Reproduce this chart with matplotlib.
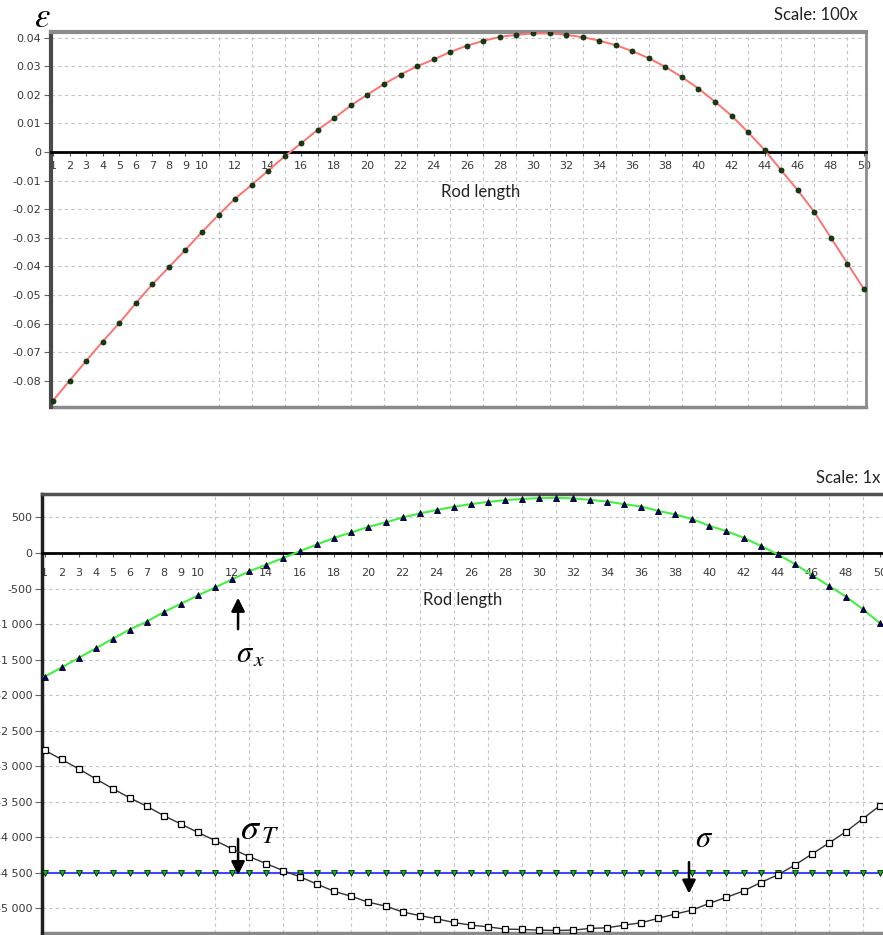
"""Strain and stress along the rod, two stacked panels."""

import matplotlib
matplotlib.use("Agg")
import matplotlib.pyplot as plt
from matplotlib.ticker import FixedLocator, FuncFormatter

plt.rcParams["mathtext.fontset"] = "stix"

# Positions along the rod and the labelled ones
positions = list(range(1, 51))
x_tick_values = list(range(1, 11)) + list(range(12, 51, 2))

# Strain (top panel)
strain = [
    -0.0870, -0.0800, -0.0731, -0.0663, -0.0599, -0.0529, -0.0463, -0.0403, -0.0342, -0.0280,
    -0.0220, -0.0163, -0.0115, -0.0065, -0.0015, 0.0031, 0.0078, 0.0119, 0.0163, 0.0201,
    0.0238, 0.0271, 0.0300, 0.0324, 0.0350, 0.0372, 0.0389, 0.0403, 0.0410, 0.0415,
    0.0415, 0.0410, 0.0402, 0.0390, 0.0374, 0.0353, 0.0328, 0.0298, 0.0262, 0.0222,
    0.0176, 0.0127, 0.0069, 0.0007, -0.0064, -0.0134, -0.0210, -0.0300, -0.0390, -0.0480,
]

# Stresses (bottom panel)
sigma_x = [
    -1740, -1610, -1476, -1342, -1206, -1076, -965, -830, -714, -597,
    -485, -370, -258, -165, -70, 28, 122, 214, 290, 368,
    430, 500, 556, 605, 650, 688, 718, 744, 760, 772,
    776, 768, 748, 724, 686, 654, 592, 542, 476, 382,
    308, 214, 102, -18, -154, -308, -462, -612, -791, -987,
]
sigma_total = [
    -2773, -2904, -3035, -3177, -3314, -3445, -3563, -3695, -3812, -3931,
    -4044, -4161, -4270, -4369, -4468, -4556, -4660, -4760, -4830, -4912,
    -4966, -5049, -5100, -5145, -5197, -5234, -5258, -5290, -5295, -5305,
    -5309, -5305, -5280, -5272, -5234, -5201, -5138, -5078, -5021, -4927,
    -4843, -4754, -4636, -4528, -4391, -4236, -4081, -3921, -3737, -3554,
]
sigma_t = [
    -4500, -4500, -4500, -4500, -4500, -4500, -4500, -4500, -4500, -4500,
    -4500, -4500, -4500, -4500, -4500, -4500, -4500, -4500, -4500, -4500,
    -4500, -4500, -4500, -4500, -4500, -4500, -4500, -4500, -4500, -4500,
    -4500, -4500, -4500, -4500, -4500, -4500, -4500, -4500, -4500, -4500,
    -4500, -4500, -4500, -4500, -4500, -4500, -4500, -4500, -4500, -4500,
]

strain_ticks = [0.04, 0.03, 0.02, 0.01, 0, -0.01, -0.02, -0.03, -0.04, -0.05, -0.06, -0.07, -0.08]
stress_ticks = [500, 0, -500, -1000, -1500, -2000, -2500, -3000, -3500, -4000, -4500, -5000]

GRID_COLOR = "#c4c4c4"
LABEL_COLOR = "#3a3a3a"
W, H = 883, 935


def px_box(left, top, right, bottom):
    """Convert a pixel box into figure fractions."""
    return [left / W, 1 - bottom / H, (right - left) / W, (bottom - top) / H]


def style_axes(ax, x_pad, y_fmt):
    """Frame, zero axis, ticks and dashed grid shared by both panels."""
    ax.spines["bottom"].set_position(("data", 0))
    ax.spines["bottom"].set_color("black")
    ax.spines["bottom"].set_linewidth(2)

    ax.xaxis.set_major_locator(FixedLocator(x_tick_values))
    ax.xaxis.set_minor_locator(FixedLocator(positions))
    ax.tick_params(axis="x", which="both", direction="out", length=3,
                   width=0.8, color="#555555")
    ax.tick_params(axis="x", which="major", labelsize=8,
                   labelcolor=LABEL_COLOR, pad=x_pad)
    ax.tick_params(axis="y", direction="out", length=5, width=0.8,
                   color="#666666", labelsize=8, labelcolor=LABEL_COLOR, pad=2)
    ax.yaxis.set_major_formatter(FuncFormatter(y_fmt))

    ax.grid(which="minor", axis="x", color=GRID_COLOR, linestyle=(0, (3, 3)), lw=0.8)
    ax.grid(which="major", axis="y", color=GRID_COLOR, linestyle=(0, (3, 3)), lw=0.8)
    ax.set_axisbelow(True)

    # Lower frame edge (the bottom spine now sits on the zero line)
    ax.plot([0, 1], [0, 0], transform=ax.transAxes, color="#8a8a8a",
            lw=2.5, clip_on=False)


def strain_label(v, _):
    return "0" if abs(v) < 1e-9 else f"{v:.2f}"


def stress_label(v, _):
    return f"{v:,.0f}".replace(",", " ")


fig = plt.figure(figsize=(W / 100, H / 100), dpi=100)

# ---- top panel: strain ----
ax1 = fig.add_axes(px_box(51, 32, 866, 407))
ax1.plot(positions, strain, color="#ff7272", lw=1.4, zorder=3,
         marker="o", markersize=3.6, markerfacecolor="#143c14",
         markeredgecolor="#0a280a", markeredgewidth=0.6)
ax1.set_xlim(0.88, 50.12)
ax1.set_ylim(-0.0892, 0.0420)
ax1.set_yticks(strain_ticks)
style_axes(ax1, x_pad=3.5, y_fmt=strain_label)
ax1.spines["top"].set_color("#8c8c8c")
ax1.spines["top"].set_linewidth(3)
ax1.spines["right"].set_color("#8c8c8c")
ax1.spines["right"].set_linewidth(2)
ax1.spines["left"].set_color("#4a4a4a")
ax1.spines["left"].set_linewidth(3)
ax1.text(0.5276, 0.573, "Rod length", transform=ax1.transAxes,
         ha="center", va="center", fontsize=12, family="Lato", color="#222222")

fig.text(42 / W, 1 - 17 / H, r"$\varepsilon$", fontsize=25, ha="center", va="center")
fig.text(858 / W, 1 - 15 / H, "Scale: 100x", fontsize=12, family="Lato",
         ha="right", va="center", color="#222222")

# ---- bottom panel: stresses ----
ax2 = fig.add_axes(px_box(42, 494, 883, 933))
ax2.plot(positions, sigma_x, color="#44ee44", lw=1.5, zorder=3,
         marker="^", markersize=5, markerfacecolor="#000080",
         markeredgecolor="black", markeredgewidth=0.6)
ax2.plot(positions, sigma_t, color="#4646ff", lw=1.5, zorder=3,
         marker="v", markersize=4.5, markerfacecolor="#00c000",
         markeredgecolor="black", markeredgewidth=0.5)
ax2.plot(positions, sigma_total, color="#333333", lw=1.0, zorder=4,
         marker="s", markersize=4.5, markerfacecolor="white",
         markeredgecolor="black", markeredgewidth=0.9)
ax2.set_xlim(0.85, 50.18)
ax2.set_ylim(-5345, 830)
ax2.set_yticks(stress_ticks)
style_axes(ax2, x_pad=8, y_fmt=stress_label)
ax2.spines["right"].set_visible(False)
ax2.spines["top"].set_color("#505050")
ax2.spines["top"].set_linewidth(2.5)
ax2.spines["left"].set_color("#202020")
ax2.spines["left"].set_linewidth(2.5)
ax2.text(0.5006, 0.7585, "Rod length", transform=ax2.transAxes,
         ha="center", va="center", fontsize=12, family="Lato", color="#222222")
fig.text(880 / W, 1 - 478 / H, "Scale: 1x", fontsize=12, family="Lato",
         ha="right", va="center", color="#222222")

# Arrows pointing at the curves
arrow = dict(arrowstyle="-|>", color="black", lw=1.8, mutation_scale=20)
ax2.annotate("", xy=(12.35, -590), xytext=(12.35, -1110), arrowprops=arrow)
ax2.text(13.1, -1430, r"$\sigma_{\,x}$", fontsize=22, ha="center", va="center")
ax2.annotate("", xy=(12.35, -4570), xytext=(12.35, -3985), arrowprops=arrow)
ax2.text(13.6, -3880, r"$\sigma_{\,T}$", fontsize=26, ha="center", va="center")
ax2.annotate("", xy=(38.8, -4830), xytext=(38.8, -4310), arrowprops=arrow)
ax2.text(39.7, -4010, r"$\sigma$", fontsize=22, ha="center", va="center")

fig.savefig("out.png", dpi=100)
plt.close(fig)
